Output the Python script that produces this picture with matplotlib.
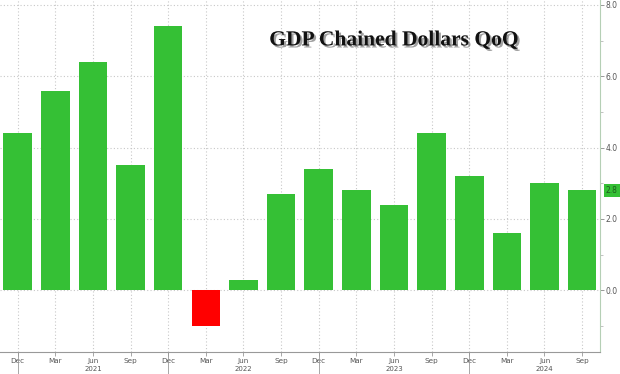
#!/usr/bin/env python3
import numpy as np
import matplotlib
matplotlib.use("Agg")
import matplotlib.pyplot as plt
import matplotlib.patheffects as pe
from matplotlib.transforms import blended_transform_factory

# quarterly GDP, chained dollars, QoQ annualised (%)
months = ["Dec", "Mar", "Jun", "Sep", "Dec", "Mar", "Jun", "Sep",
          "Dec", "Mar", "Jun", "Sep", "Dec", "Mar", "Jun", "Sep"]
values = [4.4, 5.6, 6.4, 3.5, 7.4, -1.0, 0.3, 2.7,
          3.4, 2.8, 2.4, 4.4, 3.2, 1.6, 3.0, 2.8]
years = ["2021", "2022", "2023", "2024"]
year_pos = [2, 6, 10, 14]
year_breaks = [0, 4, 8, 12]
y_ticks = [0.0, 2.0, 4.0, 6.0, 8.0]

GREEN = "#35c035"
RED = "#ff0000"
GRID = "#c8c8c8"
TXT = "#555555"


def main():
    fig = plt.figure(figsize=(6.2, 3.74), dpi=100)
    ax = fig.add_axes([0.0, 0.06, 0.968, 0.94])

    x = np.arange(len(values))
    colors = [GREEN if v >= 0 else RED for v in values]
    ax.bar(x, values, width=0.76, color=colors, zorder=3)

    ax.set_xlim(-0.47, len(values) - 0.52)
    ax.set_ylim(-1.72, 8.14)

    # grid
    for xi in x:
        ax.axvline(xi, color=GRID, lw=0.8, ls=(0, (1, 2)), zorder=1)
    for yt in y_ticks:
        ax.axhline(yt, color=GRID, lw=0.8, ls=(0, (1, 2)), zorder=1)

    # spines
    for s in ["top", "left"]:
        ax.spines[s].set_visible(False)
    ax.spines["bottom"].set_color("#999999")
    ax.spines["right"].set_color("#b5cfb5")
    ax.spines["bottom"].set_linewidth(0.8)
    ax.spines["right"].set_linewidth(0.8)

    # y axis on the right
    ax.yaxis.tick_right()
    ax.set_yticks(y_ticks)
    ax.set_yticklabels([f"{v:.1f}" for v in y_ticks])
    ax.set_yticks([-1, 1, 3, 5, 7], minor=True)
    ax.tick_params(axis="y", which="major", length=3, width=0.6, color="#888888",
                   labelsize=5.5, labelcolor=TXT, pad=1)
    ax.tick_params(axis="y", which="minor", length=2, width=0.5, color="#aaaaaa")

    # x axis months + year separators
    ax.xaxis.remove_overlapping_locs = False
    ax.set_xticks(x)
    ax.set_xticklabels(months)
    ax.set_xticks(year_breaks, minor=True)
    ax.tick_params(axis="x", which="major", length=3, width=0.6, color="#999999",
                   labelsize=5.2, labelcolor=TXT, pad=1.5)
    ax.tick_params(axis="x", which="minor", length=20, width=0.6, color="#999999")

    trans = blended_transform_factory(ax.transData, fig.transFigure)
    for yr, xp in zip(years, year_pos):
        ax.text(xp, 0.006, yr, transform=trans, ha="center", va="bottom",
                fontsize=5.0, color=TXT, clip_on=False)

    # last value label
    ax.annotate(f"{values[-1]:.1f}", xy=(1.0, values[-1]),
                xycoords=("axes fraction", "data"),
                xytext=(4, 0), textcoords="offset points",
                ha="left", va="center", fontsize=5.5, color="#1e5e1e",
                bbox=dict(boxstyle="square,pad=0.25", fc=GREEN, ec="none"),
                annotation_clip=False)

    # title
    ax.text(0.656, 0.885, "GDP Chained Dollars QoQ", transform=ax.transAxes,
            ha="center", va="center", fontsize=15.5, fontweight="bold",
            family="Liberation Serif", color="#111111", zorder=5,
            path_effects=[pe.SimplePatchShadow(offset=(1.5, -1.5), shadow_rgbFace="#555555", alpha=0.55),
                          pe.Normal()])

    fig.savefig("out.png", dpi=100)


if __name__ == "__main__":
    main()
